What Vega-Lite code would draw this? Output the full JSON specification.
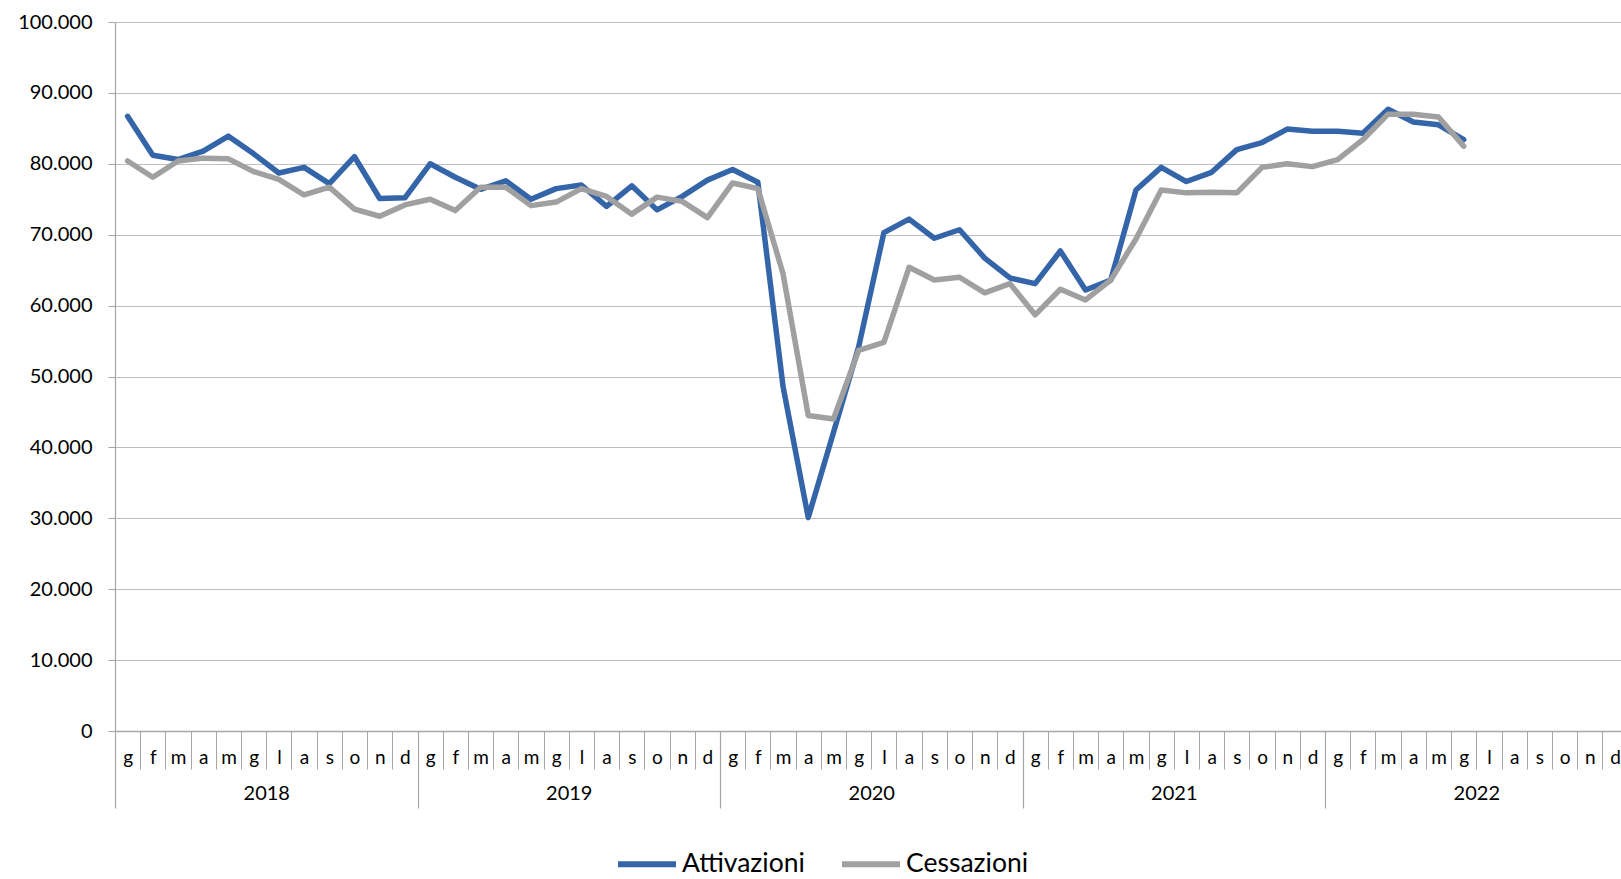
{
  "$schema": "https://vega.github.io/schema/vega-lite/v6.json",
  "width": 1506,
  "height": 709,
  "autosize": {"type": "none"},
  "padding": {"left": 115, "top": 22, "right": 0, "bottom": 148},
  "config": {
    "font": "Lato",
    "view": {"stroke": null},
    "locale": {"number": {"decimal": ",", "thousands": ".", "grouping": [3], "currency": ["€", ""]}},
    "axis": {"labelColor": "#000000", "title": null}
  },
  "data": {"values": [
    {"n":1,"s":"Attivazioni","v":86700},{"n":2,"s":"Attivazioni","v":81200},{"n":3,"s":"Attivazioni","v":80600},{"n":4,"s":"Attivazioni","v":81800},{"n":5,"s":"Attivazioni","v":83900},{"n":6,"s":"Attivazioni","v":81400},{"n":7,"s":"Attivazioni","v":78700},{"n":8,"s":"Attivazioni","v":79500},{"n":9,"s":"Attivazioni","v":77200},{"n":10,"s":"Attivazioni","v":81000},{"n":11,"s":"Attivazioni","v":75100},{"n":12,"s":"Attivazioni","v":75200},
    {"n":13,"s":"Attivazioni","v":80000},{"n":14,"s":"Attivazioni","v":78100},{"n":15,"s":"Attivazioni","v":76400},{"n":16,"s":"Attivazioni","v":77600},{"n":17,"s":"Attivazioni","v":75000},{"n":18,"s":"Attivazioni","v":76500},{"n":19,"s":"Attivazioni","v":77000},{"n":20,"s":"Attivazioni","v":74000},{"n":21,"s":"Attivazioni","v":76900},{"n":22,"s":"Attivazioni","v":73500},{"n":23,"s":"Attivazioni","v":75400},{"n":24,"s":"Attivazioni","v":77700},
    {"n":25,"s":"Attivazioni","v":79200},{"n":26,"s":"Attivazioni","v":77400},{"n":27,"s":"Attivazioni","v":48600},{"n":28,"s":"Attivazioni","v":30100},{"n":29,"s":"Attivazioni","v":42100},{"n":30,"s":"Attivazioni","v":54200},{"n":31,"s":"Attivazioni","v":70300},{"n":32,"s":"Attivazioni","v":72200},{"n":33,"s":"Attivazioni","v":69500},{"n":34,"s":"Attivazioni","v":70700},{"n":35,"s":"Attivazioni","v":66700},{"n":36,"s":"Attivazioni","v":63900},
    {"n":37,"s":"Attivazioni","v":63100},{"n":38,"s":"Attivazioni","v":67700},{"n":39,"s":"Attivazioni","v":62200},{"n":40,"s":"Attivazioni","v":63600},{"n":41,"s":"Attivazioni","v":76300},{"n":42,"s":"Attivazioni","v":79500},{"n":43,"s":"Attivazioni","v":77500},{"n":44,"s":"Attivazioni","v":78800},{"n":45,"s":"Attivazioni","v":82000},{"n":46,"s":"Attivazioni","v":83000},{"n":47,"s":"Attivazioni","v":84900},{"n":48,"s":"Attivazioni","v":84600},
    {"n":49,"s":"Attivazioni","v":84600},{"n":50,"s":"Attivazioni","v":84300},{"n":51,"s":"Attivazioni","v":87700},{"n":52,"s":"Attivazioni","v":85900},{"n":53,"s":"Attivazioni","v":85500},{"n":54,"s":"Attivazioni","v":83400},
    {"n":1,"s":"Cessazioni","v":80400},{"n":2,"s":"Cessazioni","v":78100},{"n":3,"s":"Cessazioni","v":80400},{"n":4,"s":"Cessazioni","v":80800},{"n":5,"s":"Cessazioni","v":80700},{"n":6,"s":"Cessazioni","v":78900},{"n":7,"s":"Cessazioni","v":77800},{"n":8,"s":"Cessazioni","v":75600},{"n":9,"s":"Cessazioni","v":76700},{"n":10,"s":"Cessazioni","v":73600},{"n":11,"s":"Cessazioni","v":72600},{"n":12,"s":"Cessazioni","v":74200},
    {"n":13,"s":"Cessazioni","v":75000},{"n":14,"s":"Cessazioni","v":73400},{"n":15,"s":"Cessazioni","v":76700},{"n":16,"s":"Cessazioni","v":76700},{"n":17,"s":"Cessazioni","v":74100},{"n":18,"s":"Cessazioni","v":74600},{"n":19,"s":"Cessazioni","v":76500},{"n":20,"s":"Cessazioni","v":75400},{"n":21,"s":"Cessazioni","v":72900},{"n":22,"s":"Cessazioni","v":75300},{"n":23,"s":"Cessazioni","v":74700},{"n":24,"s":"Cessazioni","v":72400},
    {"n":25,"s":"Cessazioni","v":77300},{"n":26,"s":"Cessazioni","v":76500},{"n":27,"s":"Cessazioni","v":64500},{"n":28,"s":"Cessazioni","v":44500},{"n":29,"s":"Cessazioni","v":44000},{"n":30,"s":"Cessazioni","v":53700},{"n":31,"s":"Cessazioni","v":54800},{"n":32,"s":"Cessazioni","v":65400},{"n":33,"s":"Cessazioni","v":63600},{"n":34,"s":"Cessazioni","v":64000},{"n":35,"s":"Cessazioni","v":61800},{"n":36,"s":"Cessazioni","v":63100},
    {"n":37,"s":"Cessazioni","v":58700},{"n":38,"s":"Cessazioni","v":62300},{"n":39,"s":"Cessazioni","v":60800},{"n":40,"s":"Cessazioni","v":63600},{"n":41,"s":"Cessazioni","v":69400},{"n":42,"s":"Cessazioni","v":76300},{"n":43,"s":"Cessazioni","v":75900},{"n":44,"s":"Cessazioni","v":76000},{"n":45,"s":"Cessazioni","v":75900},{"n":46,"s":"Cessazioni","v":79500},{"n":47,"s":"Cessazioni","v":80000},{"n":48,"s":"Cessazioni","v":79600},
    {"n":49,"s":"Cessazioni","v":80600},{"n":50,"s":"Cessazioni","v":83400},{"n":51,"s":"Cessazioni","v":87000},{"n":52,"s":"Cessazioni","v":87000},{"n":53,"s":"Cessazioni","v":86600},{"n":54,"s":"Cessazioni","v":82500}
  ]},
  "resolve": {"axis": {"x": "independent"}},
  "layer": [
    {
      "mark": {"type": "line", "strokeWidth": 5.5, "strokeJoin": "round", "strokeCap": "round"},
      "encoding": {
        "x": {"field": "n", "type": "quantitative",
          "scale": {"domain": [0.5, 60.24], "nice": false, "zero": false},
          "axis": {"orient": "bottom", "values": [1,2,3,4,5,6,7,8,9,10,11,12,13,14,15,16,17,18,19,20,21,22,23,24,25,26,27,28,29,30,31,32,33,34,35,36,37,38,39,40,41,42,43,44,45,46,47,48,49,50,51,52,53,54,55,56,57,58,59,60],
            "labelExpr": "['g','f','m','a','m','g','l','a','s','o','n','d'][(datum.value - 1) % 12]",
            "ticks": false, "grid": false, "domain": true, "domainColor": "#A6A6A6", "domainWidth": 1.5,
            "labelPadding": 17, "labelFontSize": 19, "labelOverlap": false, "labelFlush": false, "labelBound": false, "labelAngle": 0}},
        "y": {"field": "v", "type": "quantitative",
          "scale": {"domain": [0, 100000], "nice": false},
          "axis": {"values": [0,10000,20000,30000,40000,50000,60000,70000,80000,90000,100000],
            "format": ",.0f", "grid": true, "gridColor": "#BFBFBF", "gridWidth": 1.2,
            "domainColor": "#A6A6A6", "domainWidth": 1.2, "tickColor": "#A6A6A6", "tickSize": 7,
            "labelPadding": 16, "labelFontSize": 20, "labelOverlap": false, "labelFlush": false}},
        "color": {"field": "s", "type": "nominal",
          "scale": {"domain": ["Attivazioni", "Cessazioni"], "range": ["#3465A9", "#A0A0A0"]},
          "legend": {"orient": "none", "legendX": 500, "legendY": 810, "direction": "horizontal", "title": null,
            "symbolType": "stroke", "symbolSize": 3364, "symbolStrokeWidth": 6,
            "labelFontSize": 26.5, "labelOffset": 3, "columnPadding": 25, "labelColor": "#000000"}}
      }
    },
    {
      "mark": {"type": "point", "opacity": 0},
      "encoding": {
        "x": {"field": "n", "type": "quantitative",
          "axis": {"orient": "bottom", "values": [0.5,1.5,2.5,3.5,4.5,5.5,6.5,7.5,8.5,9.5,10.5,11.5,12.5,13.5,14.5,15.5,16.5,17.5,18.5,19.5,20.5,21.5,22.5,23.5,24.5,25.5,26.5,27.5,28.5,29.5,30.5,31.5,32.5,33.5,34.5,35.5,36.5,37.5,38.5,39.5,40.5,41.5,42.5,43.5,44.5,45.5,46.5,47.5,48.5,49.5,50.5,51.5,52.5,53.5,54.5,55.5,56.5,57.5,58.5,59.5,60.5],
            "labels": false, "domain": false, "grid": false, "ticks": true, "tickSize": 38, "tickColor": "#A6A6A6", "tickWidth": 1}}
      }
    },
    {
      "mark": {"type": "point", "opacity": 0},
      "encoding": {
        "x": {"field": "n", "type": "quantitative",
          "axis": {"orient": "bottom", "values": [0.5, 12.5, 24.5, 36.5, 48.5, 60.5],
            "labels": false, "domain": false, "grid": false, "ticks": true, "tickSize": 77, "tickColor": "#A6A6A6", "tickWidth": 1.2}}
      }
    },
    {
      "mark": {"type": "point", "opacity": 0},
      "encoding": {
        "x": {"field": "n", "type": "quantitative",
          "axis": {"orient": "bottom", "values": [6.5, 18.5, 30.5, 42.5, 54.5],
            "labelExpr": "'' + (2018 + floor((datum.value - 1) / 12))",
            "ticks": false, "domain": false, "grid": false,
            "labelPadding": 52, "labelFontSize": 20, "labelOverlap": false, "labelFlush": false, "labelAngle": 0}}
      }
    }
  ]
}
